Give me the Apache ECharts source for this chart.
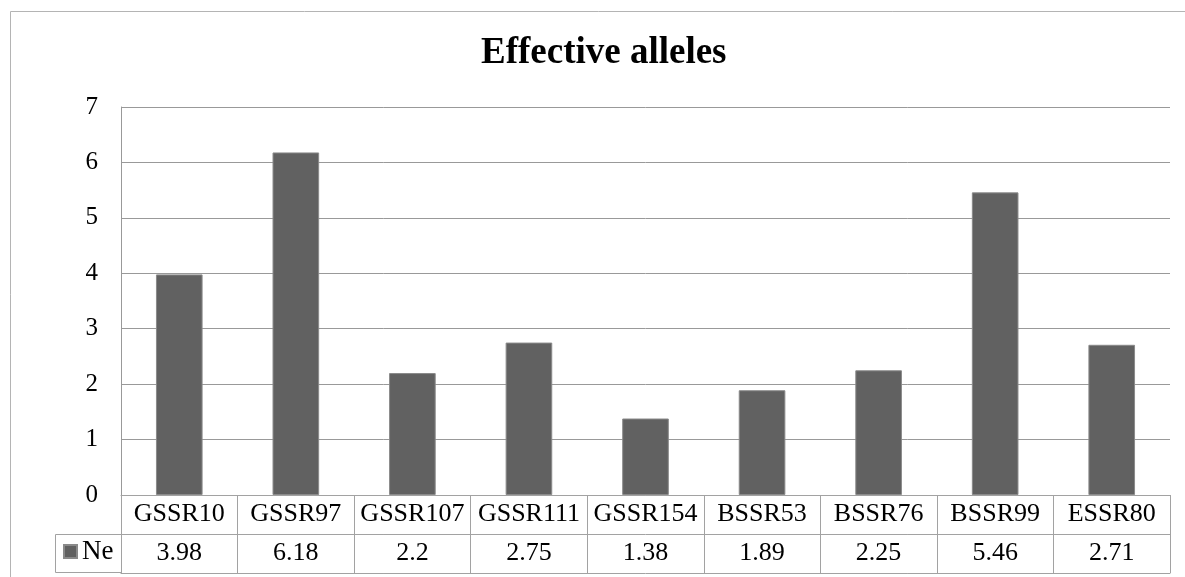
<!DOCTYPE html>
<html>
<head>
<meta charset="utf-8">
<script src="https://cdn.jsdelivr.net/npm/echarts@6/dist/echarts.min.js"></script>
<style>
  html, body { margin: 0; padding: 0; background: #fff; }
  #chart { width: 1185px; height: 577px; }
</style>
</head>
<body>
<div id="chart"></div>
<script>
// Effective number of alleles (Ne) per SSR marker
const chartTitle = 'Effective alleles';
const seriesName = 'Ne';
const markers = ['GSSR10', 'GSSR97', 'GSSR107', 'GSSR111', 'GSSR154', 'BSSR53', 'BSSR76', 'BSSR99', 'ESSR80'];
const neValues = [3.98, 6.18, 2.2, 2.75, 1.38, 1.89, 2.25, 5.46, 2.71];
const yTicks = [0, 1, 2, 3, 4, 5, 6, 7];

const SERIF = '"Liberation Serif", "Times New Roman", "DejaVu Serif", serif';
const GRID_COLOR = '#999999';
const TABLE_COLOR = '#a2a2a2';
const BAR_COLOR = '#616161';
const TABLE_FONT = 26;

const chart = echarts.init(document.getElementById('chart'), null, { renderer: 'canvas' });

// shared look of the data-table rows drawn beneath the plot
function tableRow(data, offset, showLabels) {
  return {
    type: 'category',
    gridIndex: 0,
    position: 'bottom',
    offset: offset,
    data: data,
    boundaryGap: true,
    axisLine: { show: true, lineStyle: { color: TABLE_COLOR, width: 1 } },
    axisTick: { show: showLabels, interval: 0, length: 39, inside: false,
                lineStyle: { color: TABLE_COLOR, width: 1 } },
    axisLabel: { show: showLabels, interval: 0, margin: 19.5, verticalAlign: 'middle',
                 color: '#000', fontFamily: SERIF, fontSize: TABLE_FONT },
    splitLine: { show: false }
  };
}

const option = {
  backgroundColor: '#ffffff',
  animation: false,
  title: {
    text: chartTitle,
    left: 481,
    top: 35,
    padding: 0,
    textStyle: { fontFamily: SERIF, fontWeight: 'bold', fontSize: 37, color: '#000' }
  },
  legend: {
    data: [seriesName],
    left: 63,
    top: 538,
    padding: 0,
    icon: 'rect',
    itemWidth: 13,
    itemHeight: 13,
    itemGap: 0,
    selectedMode: false,
    textStyle: { fontFamily: SERIF, fontSize: 27, color: '#000' }
  },
  grid: { left: 121, right: 15, top: 107, bottom: 82, containLabel: false },
  xAxis: [
    tableRow(markers, 0, true),
    tableRow(neValues.map(v => String(v)), 39, true),
    tableRow(markers, 78, false)
  ],
  yAxis: {
    type: 'value',
    min: yTicks[0],
    max: yTicks[yTicks.length - 1],
    interval: 1,
    axisLine: { show: true, lineStyle: { color: GRID_COLOR, width: 1 } },
    axisTick: { show: false },
    axisLabel: { margin: 23, color: '#000', fontFamily: SERIF, fontSize: 25 },
    splitLine: { show: true, lineStyle: { color: GRID_COLOR, width: 1 } }
  },
  graphic: [
    {
      // outer chart frame
      type: 'rect',
      shape: { x: 10.5, y: 11.5, width: 1400, height: 800 },
      style: { fill: 'none', stroke: '#b4b4b4', lineWidth: 1 },
      silent: true,
      z: -1
    },
    {
      // legend key cell of the data table
      type: 'rect',
      shape: { x: 55.5, y: 534.5, width: 66, height: 38 },
      style: { fill: 'none', stroke: TABLE_COLOR, lineWidth: 1 },
      silent: true
    }
  ],
  series: [{
    name: seriesName,
    type: 'bar',
    xAxisIndex: 0,
    data: neValues,
    barWidth: '40%',
    itemStyle: { color: BAR_COLOR, borderColor: '#8a8a8a', borderWidth: 1 }
  }]
};

chart.setOption(option);
</script>
</body>
</html>
